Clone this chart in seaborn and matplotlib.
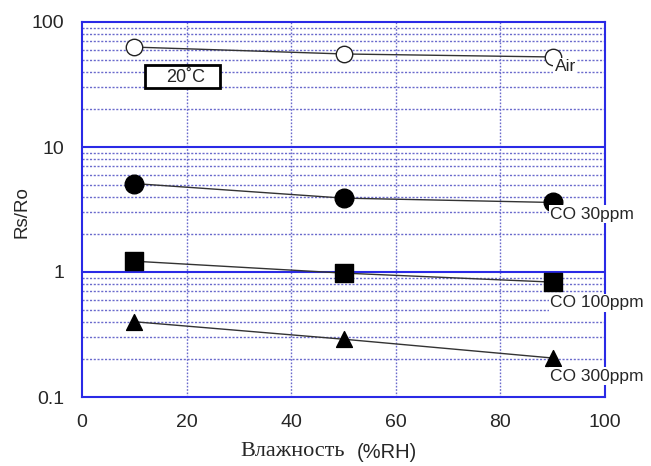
import matplotlib
matplotlib.use("Agg")
import matplotlib.pyplot as plt
import matplotlib.patches as mpatches
import seaborn as sns
import pandas as pd
import numpy as np

humidity = [10, 50, 90]
air = [63, 55.5, 52.5]
co30 = [5.1, 3.9, 3.6]
co100 = [1.22, 0.98, 0.83]
co300 = [0.40, 0.29, 0.205]
series_names = ["Air", "CO 30ppm", "CO 100ppm", "CO 300ppm"]
series_values = [air, co30, co100, co300]
xticks = [0, 20, 40, 60, 80, 100]
yticks = [0.1, 1, 10, 100]
ytick_labels = ["0.1", "1", "10", "100"]

sns.set_style("white")
plt.rcParams['font.family'] = ['Liberation Sans', 'DejaVu Sans']

df = pd.DataFrame({
    "x": humidity * len(series_names),
    "y": sum(series_values, []),
    "s": [n for n in series_names for _ in humidity],
})

fig = plt.figure(figsize=(6.51, 4.66), dpi=100)
ax = fig.add_axes([82/651, 69/466, 523/651, 375/466])
ax.set_yscale("log")
ax.set_xlim(0, 100)
ax.set_ylim(0.1, 100)

blue = "#2a2ae6"
grid_c = "#6a6acc"
for xv in [20, 40, 60, 80]:
    ax.axvline(xv, color=grid_c, lw=1.0, ls=(0, (1.2, 1.2)), zorder=1)
for dec in [0.1, 1, 10]:
    for m in range(2, 10):
        ax.axhline(dec * m, color=grid_c, lw=1.0, ls=(0, (1.5, 1.2)), zorder=1)
for yv in [1, 10]:
    ax.axhline(yv, color=blue, lw=1.5, zorder=1)

markers = {"Air": "o", "CO 30ppm": "o", "CO 100ppm": "s", "CO 300ppm": "^"}
sns.lineplot(data=df, x="x", y="y", hue="s", style="s", markers=markers, dashes=False,
             palette=["#333333"] * 4, lw=1.0, ms=0, legend=False, ax=ax, zorder=2)
for name in series_names:
    sub = df[df.s == name]
    if name == "Air":
        ax.scatter(sub.x, sub.y, s=140, facecolor="white", edgecolor="#222222", lw=1.0, zorder=3)
    elif name == "CO 300ppm":
        ax.scatter(sub.x, sub.y, s=130, marker="^", color="black", zorder=3)
    elif name == "CO 100ppm":
        ax.scatter(sub.x, sub.y, s=170, marker="s", color="black", zorder=3)
    else:
        ax.scatter(sub.x, sub.y, s=180, marker="o", color="black", zorder=3)

for sp in ax.spines.values():
    sp.set_color(blue)
    sp.set_linewidth(1.5)
    sp.set_visible(True)

ax.set_xticks(xticks)
ax.set_xticklabels([str(v) for v in xticks], fontsize=14)
ax.set_yticks(yticks)
ax.set_yticklabels(ytick_labels, fontsize=14)
ax.yaxis.set_minor_locator(matplotlib.ticker.NullLocator())
ax.tick_params(axis="x", length=0, pad=12)
ax.tick_params(axis="y", length=0, pad=13)

ax.set_xlabel("")
ax.set_ylabel("")
fig.text(240/651, 1 - 452/466, "Влажность", fontsize=16, family=["Liberation Serif", "DejaVu Serif"],
         ha="left", va="center")
fig.text(357/651, 1 - 452/466, "(%RH)", fontsize=14.5, ha="left", va="center")
fig.text(22/651, 1 - 212/466, "Rs/Ro", fontsize=13.5, rotation=90, ha="center", va="center")

lab_bbox = dict(facecolor="white", edgecolor="none", pad=1)
ax.text(90.4, 44, "Air", fontsize=12.5, va="center", ha="left", zorder=4, bbox=lab_bbox)
ax.text(89.5, 2.91, "CO 30ppm", fontsize=12.5, va="center", ha="left", zorder=4, bbox=lab_bbox)
ax.text(89.5, 0.565, "CO 100ppm", fontsize=12.5, va="center", ha="left", zorder=4, bbox=lab_bbox)
ax.text(89.5, 0.147, "CO 300ppm", fontsize=12.5, va="center", ha="left", zorder=4, bbox=lab_bbox)

box = mpatches.Rectangle(((145-82)/523, (397-88)/375), 75/523, 23/375, transform=ax.transAxes,
                         facecolor="white", edgecolor="black", lw=2, zorder=4)
ax.add_patch(box)
ax.text((186-82)/523, (397-77)/375, "20˚C", fontsize=13, va="center", ha="center",
        transform=ax.transAxes, zorder=5)

fig.savefig("out.png", dpi=100)
